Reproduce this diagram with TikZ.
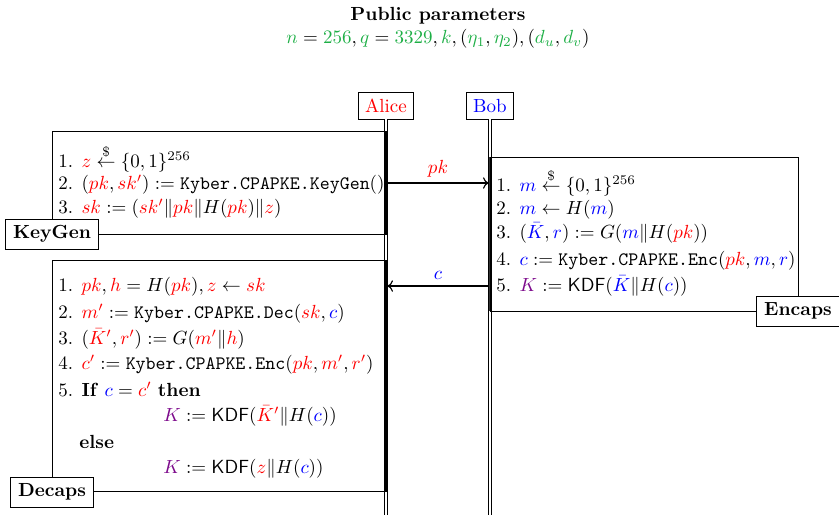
\documentclass[tikz,border=0pt]{standalone}
\usepackage{amsmath}
\usetikzlibrary{arrows.meta}
\definecolor{pgreen}{RGB}{30,175,70}
\definecolor{pviolet}{RGB}{125,10,140}
\newcommand\myR[1]{\textcolor{red}{#1}}
\newcommand\myB[1]{\textcolor{blue}{#1}}
\newcommand\myG[1]{\textcolor{pgreen}{#1}}
\newcommand\myV[1]{\textcolor{pviolet}{#1}}
\newcommand\rnd{\stackrel{\$}{\leftarrow}}
\begin{document}
\begin{tikzpicture}[x=0.5263pt,y=-0.5263pt,
  txt/.style={anchor=base west,inner sep=0pt},
  actor/.style={draw,fill=white,inner xsep=3.5pt,minimum height=14.2pt,line width=0.45pt},
  blocklabel/.style={draw,fill=white,inner xsep=4pt,minimum height=15.8pt,font=\bfseries,line width=0.45pt},
  blockbox/.style={draw,line width=0.4pt},
  lifeline/.style={double,double distance=1.5pt,line width=0.4pt},
  activebar/.style={fill=black,draw=none},
  msg/.style={-{To[length=3pt,width=6pt]},line width=0.6pt}]
\useasboundingbox (0,0) rectangle (839,515);

% title
\node[font=\bfseries,inner sep=0pt] (title) at (438,16) {Public parameters};
\node[inner sep=0pt] (params) at (438,38.5) {$\myG{n}=\myG{256},\myG{q}=\myG{3329},\myG{k},(\myG{\eta_1},\myG{\eta_2}),(\myG{d_u},\myG{d_v})$};

% actors
\node[actor] (alice) at (386,105.5) {\textcolor{red}{Alice}};
\node[actor] (bob) at (490,105.5) {\textcolor{blue}{Bob}};
\coordinate (aliceEnd) at (386,515);
\coordinate (bobEnd) at (490,515);
\draw[lifeline] (alice.south) -- (aliceEnd);
\draw[lifeline] (bob.south) -- (bobEnd);

% activation bars
\fill[activebar] (384.7,131) rectangle (387.3,234);
\fill[activebar] (384.7,260) rectangle (387.3,491);
\fill[activebar, black!80] (488.7,157) rectangle (491.3,311);

% KeyGen block
\draw[blockbox] (52,131) rectangle (386,234);
\node[blocklabel] (kglabel) at (52,234) {KeyGen};
\node[txt] (kg1) at (58,167) {1. $\myR{z}\rnd\{0,1\}^{256}$};
\node[txt] (kg2) at (58,189) {2. $(\myR{pk},\myR{sk'}):=\texttt{Kyber.CPAPKE.KeyGen}()$};
\node[txt] (kg3) at (58,213) {3. $\myR{sk}:=(\myR{sk'}\|\myR{pk}\|H(\myR{pk})\|\myR{z})$};

% Encaps block
\draw[blockbox] (490,157) rectangle (798,311);
\node[blocklabel] (enlabel) at (798,311) {Encaps};
\node[txt] (en1) at (496,191) {1. $\myB{m}\rnd\{0,1\}^{256}$};
\node[txt] (en2) at (496,214) {2. $\myB{m}\leftarrow H(\myB{m})$};
\node[txt] (en3) at (496,238.5) {3. $(\myB{\bar{K}},\myB{r}):=G(\myB{m}\|H(\myR{pk}))$};
\node[txt] (en4) at (496,265.5) {4. $\myB{c}:=\texttt{Kyber.CPAPKE.Enc}(\myR{pk},\myB{m},\myB{r})$};
\node[txt] (en5) at (496,291) {5. $\myV{K}:=\mathsf{KDF}(\myB{\bar{K}}\|H(\myB{c}))$};

% Decaps block
\draw[blockbox] (52,260) rectangle (386,491);
\node[blocklabel] (delabel) at (52,492) {Decaps};
\node[txt] (de1) at (58,291) {1. $\myR{pk},\myR{h}=H(\myR{pk}),\myR{z}\leftarrow\myR{sk}$};
\node[txt] (de2) at (58,318) {2. $\myR{m'}:=\texttt{Kyber.CPAPKE.Dec}(\myR{sk},\myB{c})$};
\node[txt] (de3) at (58,344) {3. $(\myR{\bar{K}'},\myR{r'}):=G(\myR{m'}\|\myR{h})$};
\node[txt] (de4) at (58,369) {4. $\myR{c'}:=\texttt{Kyber.CPAPKE.Enc}(\myR{pk},\myR{m'},\myR{r'})$};
\node[txt] (de5) at (58,396) {5. \textbf{If} $\myB{c}=\myR{c'}$ \textbf{then}};
\node[txt] (de6) at (163,421) {$\myV{K}:=\mathsf{KDF}(\myR{\bar{K}'}\|H(\myB{c}))$};
\node[txt] (de7) at (79,448) {\textbf{else}};
\node[txt] (de8) at (163,473) {$\myV{K}:=\mathsf{KDF}(\myR{z}\|H(\myB{c}))$};

% messages
\coordinate (pkFrom) at (387.3,183);
\coordinate (pkTo) at (488.7,183);
\coordinate (cFrom) at (488.7,286);
\coordinate (cTo) at (387.3,286);
\draw[msg] (pkFrom) -- node[above=3pt,inner sep=0pt] (pklabel) {$\myR{pk}$} (pkTo);
\draw[msg] (cFrom) -- node[above=3pt,inner sep=0pt] (clabel) {$\myB{c}$} (cTo);
\end{tikzpicture}
\end{document}
